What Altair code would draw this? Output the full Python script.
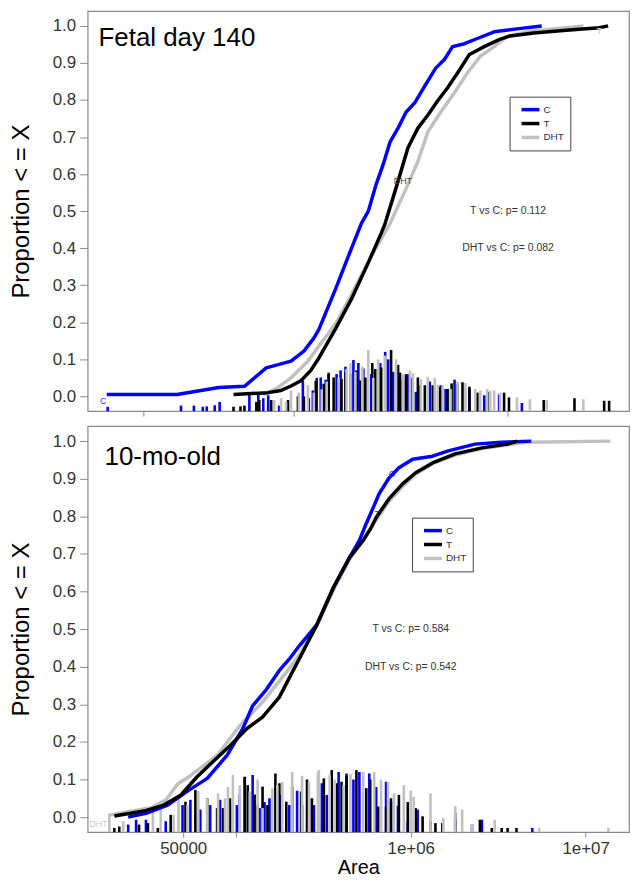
import altair as alt
import pandas as pd

GROUPS = ["C", "T", "DHT"]
COLORS = ["#0000ff", "#000000", "#c0c0c0"]

# ---------------- Fetal day 140 : cumulative curves ----------------
fetal_C_area = [13500, 28700, 44900, 59150, 74700, 97480, 111900, 124500, 131300, 157300,
                180600, 207400, 223400, 243200, 262000, 282200, 307300, 334600, 368100,
                409500, 460300, 506300, 551300, 626300, 719200, 861500, 1100000, 1435000]
fetal_C_prop = [0.005, 0.005, 0.024, 0.027, 0.077, 0.095, 0.122, 0.157, 0.18, 0.29,
                0.379, 0.467, 0.50, 0.573, 0.626, 0.687, 0.724, 0.767, 0.793,
                0.838, 0.886, 0.91, 0.944, 0.952, 0.966, 0.984, 0.992, 1.0]

fetal_T_area = [52620, 76330, 87640, 97480, 108400, 120600, 131300, 157300, 186500, 223400,
                256400, 267600, 297600, 341800, 380100, 422700, 470200, 522900, 581600,
                660700, 774700, 908500, 1021000, 1318000, 1933000, 2659000, 2926000]
fetal_T_prop = [0.005, 0.01, 0.016, 0.028, 0.042, 0.07, 0.103, 0.183, 0.263, 0.361,
                0.44, 0.467, 0.554, 0.671, 0.724, 0.759, 0.798, 0.833, 0.873,
                0.923, 0.944, 0.963, 0.973, 0.981, 0.989, 0.995, 1.0]

fetal_DHT_area = [72380, 84900, 97480, 116800, 131300, 159000, 188400, 228200, 282200, 331100,
                  380100, 422700, 485400, 563300, 646500, 742500, 861500, 985800, 1246000,
                  1714000, 2243000]
fetal_DHT_prop = [0.005, 0.024, 0.05, 0.095, 0.135, 0.2, 0.28, 0.374, 0.467, 0.554,
                  0.634, 0.714, 0.767, 0.82, 0.873, 0.918, 0.944, 0.971, 0.985,
                  0.993, 1.0]

# ---------------- Fetal day 140 : histogram spikes ----------------
fetal_C_bin = [13640, 29950, 34400, 37840, 39480, 43000, 45340, 62370, 68640, 72380, 76330,
               85800, 110700, 123200, 128500, 134100, 141400, 146000, 159000, 165900, 174900,
               190400, 200800, 211800, 230600, 253800, 267600, 276300, 291300, 314000, 324100,
               341800, 372100, 388300, 431900, 485400, 511900, 563300, 660700, 774700, 908500,
               1160000]
fetal_C_cnt = [-0.028, -0.025, -0.025, -0.028, -0.027, -0.024, -0.015, 0.011, 0.008, -0.005, 0.003,
               -0.025, 0.042, 0.016, 0.05, 0.051, 0.045, 0.064, 0.06, 0.07, 0.08,
               0.098, 0.09, 0.075, 0.06, 0.09, 0.12, 0.1, 0.066, 0.04, 0.05,
               0.06, 0.012, 0.03, 0.04, 0.03, 0.02, 0.045, 0.02, 0.003, 0.005,
               -0.018]

fetal_T_bin = [52620, 56690, 59150, 67200, 69370, 78810, 94430, 105000, 111900, 118000,
               127100, 138400, 146000, 154000, 167600, 174900, 184500, 196600, 205000, 216400,
               233100, 240600, 256400, 285200, 307300, 314000, 334600, 355800, 380100, 409500,
               445800, 480300, 522900, 545700, 581600, 613400, 660700, 719200, 817100, 958300,
               1010000, 1466000, 2039000, 2804000, 2957000]
fetal_T_cnt = [-0.028, -0.027, -0.025, -0.015, -0.01, -0.01, -0.01, 0.0, 0.0, -0.005,
               0.042, 0.034, 0.06, 0.051, 0.047, 0.065, 0.06, 0.07, 0.043, 0.051,
               0.09, 0.074, 0.078, 0.125, 0.085, 0.064, 0.06, 0.05, 0.051, 0.03,
               0.03, 0.025, 0.02, 0.035, 0.033, 0.038, 0.026, 0.01, 0.012, 0.01,
               -0.003, -0.01, -0.005, -0.012, -0.012]

fetal_DHT_bin = [81370, 87640, 92430, 97480, 106100, 116800, 124500, 135500, 142900, 162400,
                 176800, 184500, 194500, 209600, 223400, 235600, 248500, 267600, 300800, 324100,
                 349100, 360500, 392500, 422700, 455400, 470200, 495900, 539900, 581600, 633200,
                 704000, 742500, 799800, 825800, 861500, 918200, 1100000, 1264000, 1514000,
                 2243000]
fetal_DHT_cnt = [-0.01, -0.005, -0.015, 0.016, 0.01, 0.03, 0.01, 0.019, 0.04, 0.05,
                 0.074, 0.09, 0.066, 0.08, 0.125, 0.05, 0.1, 0.11, 0.1, 0.06,
                 0.07, 0.063, 0.046, 0.052, 0.05, 0.03, 0.03, 0.02, 0.04, 0.036,
                 0.02, 0.016, 0.02, 0.015, 0.016, 0.01, -0.003, -0.008, -0.01,
                 -0.008]

# ---------------- 10-mo-old : cumulative curves ----------------
adult_C_area = [24230, 30610, 40750, 52860, 68590, 88990, 109500, 124700, 149700, 177300,
                201800, 229900, 290600, 362500, 446400, 508400, 556800, 610000, 659500,
                751300, 855600, 1026000, 1331000, 1639000, 2329000, 3311000, 4890000]
adult_C_prop = [0.0, 0.01, 0.032, 0.069, 0.103, 0.164, 0.235, 0.296, 0.34, 0.39,
                0.42, 0.455, 0.512, 0.612, 0.69, 0.736, 0.781, 0.823, 0.86,
                0.902, 0.929, 0.952, 0.96, 0.974, 0.992, 0.997, 1.0]

adult_T_area = [20190, 29820, 38690, 48270, 60230, 74130, 92490, 115400, 142100, 177300,
                209900, 229900, 290600, 362500, 446400, 535500, 594300, 634300, 751300,
                901000, 1067000, 1331000, 1796000, 2552000, 3579000, 4075000]
adult_T_prop = [0.003, 0.016, 0.032, 0.058, 0.108, 0.148, 0.19, 0.235, 0.266, 0.319,
                0.385, 0.42, 0.512, 0.612, 0.69, 0.736, 0.77, 0.797, 0.847,
                0.887, 0.916, 0.942, 0.966, 0.982, 0.992, 1.0]

adult_DHT_area = [18670, 32670, 39710, 46420, 54960, 78100, 105300, 142100, 194200, 229900,
                  290600, 362500, 446400, 535500, 634300, 751300, 901000, 1067000, 1331000,
                  1796000, 2552000, 3579000, 4581000, 13840000]
adult_DHT_prop = [0.005, 0.025, 0.045, 0.088, 0.11, 0.164, 0.243, 0.306, 0.385, 0.43,
                  0.51, 0.605, 0.685, 0.74, 0.79, 0.84, 0.88, 0.912, 0.94,
                  0.963, 0.98, 0.99, 0.997, 1.0]

# ---------------- 10-mo-old : histogram spikes ----------------
adult_C_bin = [24230, 26880, 30610, 39710, 49540, 54960, 62600, 71310, 81200, 92490, 101300,
               105300, 112400, 124700, 136600, 145800, 155600, 181900, 201800, 224000, 239100,
               261900, 279500, 310100, 331000, 386800, 429300, 470200, 508400, 579000, 634300,
               722500, 770900, 844600, 961700, 1095000, 1297000, 1796000, 2240000, 2552000,
               4954000]
adult_C_cnt = [-0.02, -0.007, -0.007, -0.011, 0.032, 0.046, 0.02, 0.032, 0.046, 0.032, 0.032,
               0.06, 0.107, 0.112, 0.024, 0.04, 0.05, 0.059, 0.032, 0.07, 0.032,
               0.05, 0.032, 0.09, 0.059, 0.12, 0.116, 0.1, 0.12, 0.116, 0.08,
               0.094, 0.041, 0.03, -0.011, 0.02, -0.011, 0.011, -0.02, -0.007,
               -0.029]

adult_T_bin = [20190, 21540, 27950, 31420, 35790, 42380, 51510, 58660, 68590, 78100,
               84450, 92490, 112400, 116900, 128000, 133100, 142100, 151600, 168300, 177300,
               194200, 209900, 236000, 255200, 272300, 318400, 353200, 377000, 402100, 429300,
               489000, 556800, 586600, 651000, 722500, 770900, 855600, 961700, 1067000,
               1169000, 1384000, 1516000, 1796000, 2486000, 2906000, 3311000, 3579000, 4023000]
adult_T_cnt = [-0.029, -0.025, -0.02, -0.016, -0.029, 0.006, 0.041, 0.072, 0.05, 0.024,
               0.024, 0.05, 0.107, 0.085, 0.06, 0.032, 0.081, 0.032, 0.116, 0.09,
               0.041, 0.081, 0.068, 0.1, 0.05, 0.103, 0.125, 0.09, 0.094, 0.11,
               0.125, 0.077, 0.1, 0.028, 0.028, 0.05, 0.059, 0.04, 0.024,
               0.002, -0.016, -0.016, -0.007, -0.007, -0.029, -0.029, -0.029, -0.029]

adult_DHT_bin = [18920, 22700, 33530, 37210, 44060, 47010, 52860, 61000, 68590, 79120, 86690,
                 90100, 96180, 105300, 120000, 133100, 142100, 161800, 172700, 184300, 209900,
                 239100, 261900, 294400, 298300, 344200, 367300, 412800, 452300, 535500, 618000,
                 676900, 741300, 801700, 912900, 1000000, 1040000, 1297000, 1536000, 1796000,
                 1967000, 2240000, 3021000, 5427000, 13490000]
adult_DHT_cnt = [0.006, -0.011, 0.015, 0.02, 0.006, 0.05, 0.032, 0.07, 0.05, 0.063, 0.05,
                 0.08, 0.112, 0.085, 0.068, 0.1, 0.024, 0.077, 0.085, 0.094, 0.12,
                 0.11, 0.094, 0.12, 0.125, 0.112, 0.1, 0.085, 0.115, 0.12, 0.12,
                 0.1, 0.094, 0.063, 0.085, 0.07, 0.054, 0.063, -0.003, 0.029,
                 0.02, -0.02, -0.007, -0.029, -0.029]

# ---------------- annotations ----------------
fetal_title = "Fetal day 140"
adult_title = "10-mo-old"
fetal_p = ["T vs C: p= 0.112", "DHT vs C: p= 0.082"]
adult_p = ["T vs C: p= 0.584", "DHT vs C: p= 0.542"]
p_area = [1000000, 1000000]
p_prop = [0.5, 0.4]

fetal_tag_text = ["C", "DHT", "T"]
fetal_tag_area = [13000, 324000, 2660000]
fetal_tag_prop = [-0.012, 0.58, 0.985]
adult_tag_text = ["C", "T", "DHT"]
adult_tag_area = [781000, 643000, 16400]
adult_tag_prop = [0.913, 0.807, -0.018]
tag_color = ["#3333ff", "#444444", "#cccccc"]

color_scale = alt.Scale(domain=GROUPS, range=COLORS)
y_scale = alt.Scale(domain=[-0.04, 1.04], nice=False, zero=False)
y_ticks = [round(i * 0.1, 1) for i in range(11)]


def y_axis():
    return alt.Axis(values=y_ticks, format=".1f", title="Proportion < = X",
                    titleFontSize=24, titleFontWeight="normal", titleColor="#000",
                    titlePadding=19, labelFontSize=17, labelColor="#333",
                    labelPadding=4, tickSize=8, tickColor="#888", domain=False, grid=False)


def make_legend(xy):
    return alt.Legend(title=None, orient="none", legendX=xy[0], legendY=xy[1],
                      symbolType="M-0.2,0H3.4", symbolStrokeWidth=3.5, symbolSize=100,
                      labelFontSize=10, labelColor="#333", strokeColor="#444",
                      fillColor="white", padding=6, rowPadding=0, labelOffset=14)


def curves_df(areas, props):
    rows = []
    for g, a, p in zip(GROUPS, areas, props):
        for ai, pi in zip(a, p):
            rows.append({"area": ai, "prop": pi, "group": g})
    return pd.DataFrame(rows)


def panel(curve_areas, curve_props, bin_areas, bin_cnts, x_domain, x_axis, width, height,
          title, title_dx, title_dy, pvals, tags, legend_xy):
    xs = alt.Scale(type="log", domain=x_domain, nice=False)
    leg = make_legend(legend_xy)
    spikes = []
    for g, a, c in zip(GROUPS, bin_areas, bin_cnts):
        for ai, ci in zip(a, c):
            spikes.append({"area": ai, "h": ci, "group": g})
    spikes = pd.DataFrame(spikes)
    base_spk = alt.Chart(spikes).mark_rule(strokeWidth=2.6).encode(
        x=alt.X("area:Q", scale=xs, axis=x_axis),
        y=alt.Y("h:Q", scale=y_scale, axis=y_axis()),
        y2=alt.datum(-0.04),
        color=alt.Color("group:N", scale=color_scale, legend=leg),
    )
    cdf = curves_df(curve_areas, curve_props)
    lines = []
    for g in ["DHT", "C", "T"]:
        lines.append(alt.Chart(cdf[cdf.group == g]).mark_line(strokeWidth=3.5, strokeJoin="round")
                     .encode(x=alt.X("area:Q", scale=xs),
                             y=alt.Y("prop:Q", scale=y_scale),
                             color=alt.Color("group:N", scale=color_scale, legend=leg),
                             order=alt.Order("area:Q")))
    pdf = pd.DataFrame({"area": p_area, "prop": p_prop, "txt": pvals})
    ptxt = alt.Chart(pdf).mark_text(fontSize=10.5, color="#333").encode(
        x=alt.X("area:Q", scale=xs), y=alt.Y("prop:Q", scale=y_scale), text="txt:N")
    tdf = pd.DataFrame({"area": tags[1], "prop": tags[2], "txt": tags[0], "col": tag_color})
    tags_layer = alt.Chart(tdf).mark_text(fontSize=9).encode(
        x=alt.X("area:Q", scale=xs), y=alt.Y("prop:Q", scale=y_scale), text="txt:N",
        color=alt.Color("col:N", scale=None))
    ttl = alt.Chart(pd.DataFrame({"t": [title]})).mark_text(
        fontSize=26, align="left", baseline="alphabetic", color="#000").encode(
        x=alt.value(title_dx), y=alt.value(title_dy), text="t:N")
    return alt.layer(base_spk, *lines, ptxt, tags_layer, ttl).properties(width=width, height=height)


top_axis = alt.Axis(values=[20000, 100000, 1000000], labels=False, title=None, tickSize=5,
                    tickColor="#888", domain=False, grid=False)
bottom_axis = alt.Axis(values=[50000, 100000, 1000000, 10000000],
                       labelExpr="datum.value == 50000 ? '50000' : datum.value == 100000 ? '' : "
                                 "datum.value == 1000000 ? '1e+06' : '1e+07'",
                       title="Area", titleFontSize=20, titleFontWeight="normal", titleColor="#000",
                       titlePadding=2, labelFontSize=17, labelColor="#333", labelPadding=3,
                       tickSize=5, tickColor="#888", domain=False, grid=False, labelFlush=False)

top = panel([fetal_C_area, fetal_T_area, fetal_DHT_area],
            [fetal_C_prop, fetal_T_prop, fetal_DHT_prop],
            [fetal_C_bin, fetal_T_bin, fetal_DHT_bin],
            [fetal_C_cnt, fetal_T_cnt, fetal_DHT_cnt],
            [11000, 3660000], top_axis, 544, 402, fetal_title, 11, 35, fetal_p,
            (fetal_tag_text, fetal_tag_area, fetal_tag_prop), (424, 86))

bottom = panel([adult_C_area, adult_T_area, adult_DHT_area],
               [adult_C_prop, adult_T_prop, adult_DHT_prop],
               [adult_C_bin, adult_T_bin, adult_DHT_bin],
               [adult_C_cnt, adult_T_cnt, adult_DHT_cnt],
               [14200, 17700000], bottom_axis, 544, 408, adult_title, 17, 39, adult_p,
               (adult_tag_text, adult_tag_area, adult_tag_prop), (326, 92))

chart = alt.vconcat(top, bottom, spacing=7).resolve_scale(color="independent").resolve_legend(
    color="independent").properties(padding=0).configure(
    font="Liberation Sans").configure_view(stroke="#888", strokeWidth=1.2)

chart.save("out.html", embed_options={"renderer": "svg", "actions": False})
